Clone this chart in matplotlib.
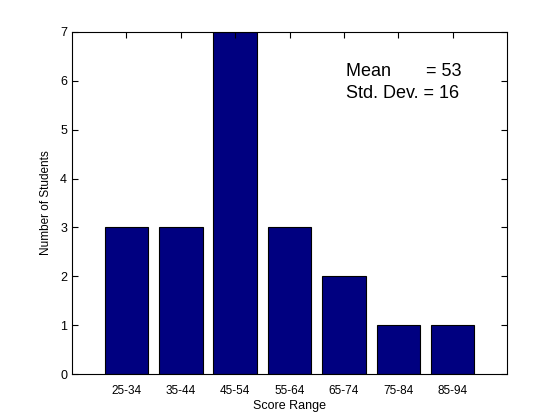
import matplotlib
matplotlib.use("Agg")
import matplotlib.pyplot as plt

# data
score_ranges = ["25-34", "35-44", "45-54", "55-64", "65-74", "75-84", "85-94"]
num_students = [3, 3, 7, 3, 2, 1, 1]
mean_score = 53
std_dev = 16

plt.rcParams["font.family"] = ["Liberation Sans", "DejaVu Sans"]

fig = plt.figure(figsize=(5.6, 4.2), dpi=100)
ax = fig.add_axes([0.1286, 0.1095, 0.7768, 0.8145])

positions = list(range(1, len(score_ranges) + 1))
ax.bar(positions, num_students, width=0.8, color="#000080", edgecolor="black", linewidth=0.8)

ax.set_xlim(0, len(score_ranges) + 1)
ax.set_ylim(0, 7)
ax.set_yticks(range(0, 8))

# MATLAB style box: ticks inside, on all sides
ax.tick_params(axis="y", direction="in", right=True, length=4, labelsize=9)
ax.set_xticks(positions)
ax.set_xticklabels(score_ranges)
ax.tick_params(axis="x", direction="in", top=True, bottom=False, length=4, labelsize=8.5, pad=8)
for s in ax.spines.values():
    s.set_linewidth(0.8)

ax.set_xlabel("Score Range", fontsize=9, labelpad=2)
ax.set_ylabel("Number of Students", fontsize=8.5, labelpad=6)

ax.text(0.63, 0.885, f"Mean       = {mean_score}", transform=ax.transAxes, fontsize=13, va="center")
ax.text(0.63, 0.82, f"Std. Dev. = {std_dev}", transform=ax.transAxes, fontsize=13, va="center")

fig.savefig("out.png", dpi=100, facecolor="white")
